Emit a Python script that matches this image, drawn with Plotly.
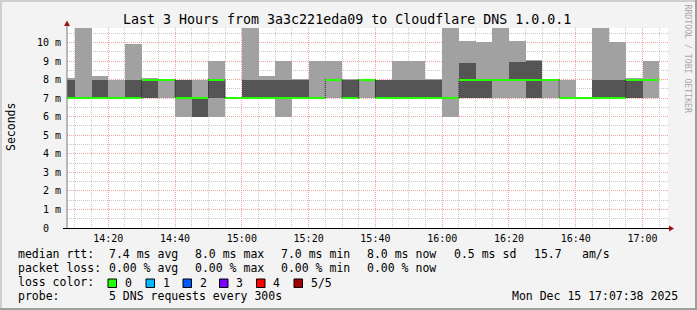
import plotly.graph_objects as go
import pandas as pd

# ---------------- data ----------------
DAY = "2025-12-15 "
times = ["14:05", "14:10", "14:15", "14:20", "14:25", "14:30", "14:35", "14:40", "14:45",
         "14:50", "14:55", "15:00", "15:05", "15:10", "15:15", "15:20", "15:25", "15:30",
         "15:35", "15:40", "15:45", "15:50", "15:55", "16:00", "16:05", "16:10", "16:15",
         "16:20", "16:25", "16:30", "16:35", "16:40", "16:45", "16:50", "16:55", "17:00"]
# five sorted DNS replies per step (ms)
ping1 = [7, 7, 7, 7, 7, 7, 7, 6, 6, 6, 7, 7, 7, 6, 7, 7, 7, 7,
         7, 7, 7, 7, 7, 6, 7, 7, 7, 7, 7, 7, 7, 7, 7, 7, 7, 7]
ping2 = [7, 7, 7, 7, 7, 7, 8, 7, 6, 7, 7, 7, 7, 7, 7, 7, 8, 7,
         8, 7, 7, 7, 7, 7, 7, 7, 8, 8, 7, 8, 7, 7, 7, 7, 7, 8]
median = [7, 7, 7, 7, 7, 8, 8, 7, 7, 8, 7, 7, 7, 7, 7, 7, 8, 7,
          8, 7, 7, 7, 7, 7, 8, 8, 8, 8, 8, 8, 7, 7, 7, 7, 8, 8]
ping4 = [8, 7, 8, 7, 8, 8, 8, 8, 7, 8, 7, 8, 8, 8, 8, 7, 8, 8,
         8, 8, 8, 8, 8, 7, 8.9, 8, 8, 8.94, 9, 8, 7, 7, 8, 8, 8, 8]
ping5 = [8.08, 12, 8.18, 8, 9.91, 8.08, 8, 8, 8, 9, 7, 12, 8.18, 9, 8.02, 9, 9.01, 8.02,
         8, 8, 9, 9.01, 8.02, 12, 10.1, 10, 12, 10.07, 9.05, 8, 8, 7, 12, 10.05, 8.08, 9]

tick_times = ["14:20", "14:40", "15:00", "15:20", "15:40", "16:00", "16:20", "16:40", "17:00"]
y_ticks = [0, 1, 2, 3, 4, 5, 6, 7, 8, 9, 10]
y_labels = ["0\u00a0\u00a0", "1 m", "2 m", "3 m", "4 m", "5 m", "6 m", "7 m", "8 m", "9 m", "10 m"]

title_text = "Last 3 Hours from 3a3c221eda09 to Cloudflare DNS 1.0.0.1"
legend_line1 = ["median rtt:", "7.4 ms avg", "8.0 ms max", "7.0 ms min", "8.0 ms now",
                "0.5 ms sd", "15.7", "am/s"]
legend_line2 = ["packet loss:", "0.00 % avg", "0.00 % max", "0.00 % min", "0.00 % now"]
loss_labels = ["0", "1", "2", "3", "4", "5/5"]
loss_colors = ["#26ff00", "#00b8ff", "#0059ff", "#7e00ff", "#ff0000", "#a10000"]
probe_text = "5 DNS requests every 300s"
stamp_text = "Mon Dec 15 17:07:38 2025"

# ---------------- geometry helpers ----------------
W, H = 697, 310
L, R, T, B = 67, 668, 28, 228
def px(X):
    return (X - L) / (R - L)
def py(Y):
    return (B - Y) / (B - T)

FONT = "DejaVu Sans Mono"
STEP_MS = 300000

x_start = [pd.Timestamp(DAY + t) for t in times]

fig = go.Figure()

# smoke: outer layer (min..max) light, inner layer (2nd..4th) dark
fig.add_trace(go.Bar(x=x_start, y=[b - a for a, b in zip(ping1, ping5)], base=ping1,
                     width=STEP_MS, offset=0, marker=dict(color="#a1a1a1", line_width=0),
                     hoverinfo="skip"))
fig.add_trace(go.Bar(x=x_start, y=[b - a for a, b in zip(ping2, ping4)], base=ping2,
                     width=STEP_MS, offset=0, marker=dict(color="#555555", line_width=0),
                     hoverinfo="skip"))
# median (loss 0 -> green)
fig.add_trace(go.Bar(x=x_start, y=[0.11] * len(median), base=[m - 0.055 for m in median],
                     width=STEP_MS, offset=0, marker=dict(color=loss_colors[0], line_width=0),
                     hoverinfo="skip"))
# vertical connectors of median where it changes
vx, vy = [], []
for i in range(1, len(median)):
    if median[i] != median[i - 1]:
        vx += [x_start[i], x_start[i], None]
        vy += [median[i - 1], median[i], None]
fig.add_trace(go.Scatter(x=vx, y=vy, mode="lines",
                         line=dict(color="#202020", width=1, dash="1px,1px"),
                         hoverinfo="skip"))

shapes = []
# frame of the image
shapes.append(dict(type="rect", xref="paper", yref="paper", x0=px(0), x1=px(W), y0=py(0), y1=py(2),
                   fillcolor="#cfcfcf", line_width=0, layer="below"))
shapes.append(dict(type="rect", xref="paper", yref="paper", x0=px(0), x1=px(2), y0=py(0), y1=py(H),
                   fillcolor="#cfcfcf", line_width=0, layer="below"))
shapes.append(dict(type="rect", xref="paper", yref="paper", x0=px(0), x1=px(W), y0=py(H - 2), y1=py(H),
                   fillcolor="#9e9e9e", line_width=0, layer="below"))
shapes.append(dict(type="rect", xref="paper", yref="paper", x0=px(W - 2), x1=px(W), y0=py(0), y1=py(H),
                   fillcolor="#9e9e9e", line_width=0, layer="below"))
# axes
shapes.append(dict(type="line", xref="paper", yref="paper", x0=px(67), x1=px(67), y0=py(228), y1=py(25),
                   line=dict(color="#7a7a7a", width=1)))
shapes.append(dict(type="line", xref="paper", yref="paper", x0=px(63), x1=px(670), y0=py(228.5), y1=py(228.5),
                   line=dict(color="#000000", width=1)))
# arrows
shapes.append(dict(type="path", xref="paper", yref="paper",
                   path=f"M {px(64)} {py(26)} L {px(70)} {py(26)} L {px(67)} {py(20.5)} Z",
                   fillcolor="#a01010", line_width=0))
shapes.append(dict(type="path", xref="paper", yref="paper",
                   path=f"M {px(669)} {py(225.5)} L {px(669)} {py(231.5)} L {px(674)} {py(228.5)} Z",
                   fillcolor="#a01010", line_width=0))

annotations = []
def text(s, X, Y, size=11.5, anchor="left", color="#000000", angle=0):
    annotations.append(dict(text=s, x=px(X), y=py(Y), xref="paper", yref="paper",
                            xanchor=anchor, yanchor="middle", showarrow=False,
                            textangle=angle,
                            font=dict(family=FONT, size=size, color=color)))

text(title_text, 347.3, 19, size=13.3, anchor="center")
text("Seconds", 11, 127, size=11.5, anchor="center", angle=-90)
text("RRDTOOL / TOBI OETIKER", 687.5, 59, size=8.2, anchor="center", color="#a8a8a8", angle=90)

line1_x = [16, 107, 193, 279, 365, 451.7, 531.7, 580]
for s, X in zip(legend_line1, line1_x):
    text(s, X, 254, anchor="left")
line2_x = [16, 107, 193, 279, 365]
for s, X in zip(legend_line2, line2_x):
    text(s, X, 268, anchor="left")
text("loss color:", 16, 282, anchor="left")
box_x = [108, 146, 183, 219.5, 256.5, 294]
for lab, col, X in zip(loss_labels, loss_colors, box_x):
    shapes.append(dict(type="rect", xref="paper", yref="paper", x0=px(X), x1=px(X + 8.5),
                       y0=py(279), y1=py(287.5), fillcolor=col, line=dict(color="#000000", width=1)))
    text(lab, X + 14.5, 282.5, anchor="left")
text("probe:", 16, 296, anchor="left")
text(probe_text, 107, 296, anchor="left")
text(stamp_text, 680, 296, anchor="right")

fig.update_layout(
    width=W, height=H,
    margin=dict(l=L, r=W - R, t=T, b=H - B, pad=0),
    paper_bgcolor="#f3f3f3", plot_bgcolor="#ffffff",
    barmode="overlay", bargap=0, showlegend=False,
    shapes=shapes, annotations=annotations,
    font=dict(family=FONT, size=10, color="#000000"),
    xaxis=dict(type="date",
               range=[pd.Timestamp(DAY + "14:07:38"), pd.Timestamp(DAY + "17:07:38")],
               tickvals=[pd.Timestamp(DAY + t) for t in tick_times], ticktext=tick_times,
               showgrid=True, gridcolor="#f2a0a0", griddash="1px,1px", gridwidth=1,
               minor=dict(dtick=STEP_MS, tick0=DAY + "14:00", showgrid=True,
                          gridcolor="#c8c8c8", griddash="1px,1px", gridwidth=1),
               showline=False, zeroline=False, ticks="", ticklabelstandoff=3,
               tickfont=dict(family=FONT, size=10, color="#000000"), fixedrange=True),
    yaxis=dict(range=[0, 10.78], tickvals=y_ticks, ticktext=y_labels,
               showgrid=True, gridcolor="#f2a0a0", griddash="1px,1px", gridwidth=1,
               minor=dict(dtick=0.5, tick0=0, showgrid=True,
                          gridcolor="#c8c8c8", griddash="1px,1px", gridwidth=1),
               showline=False, zeroline=False, ticks="", ticklabelstandoff=5,
               tickfont=dict(family=FONT, size=10, color="#000000"), fixedrange=True),
)

fig.write_html("out.html")
